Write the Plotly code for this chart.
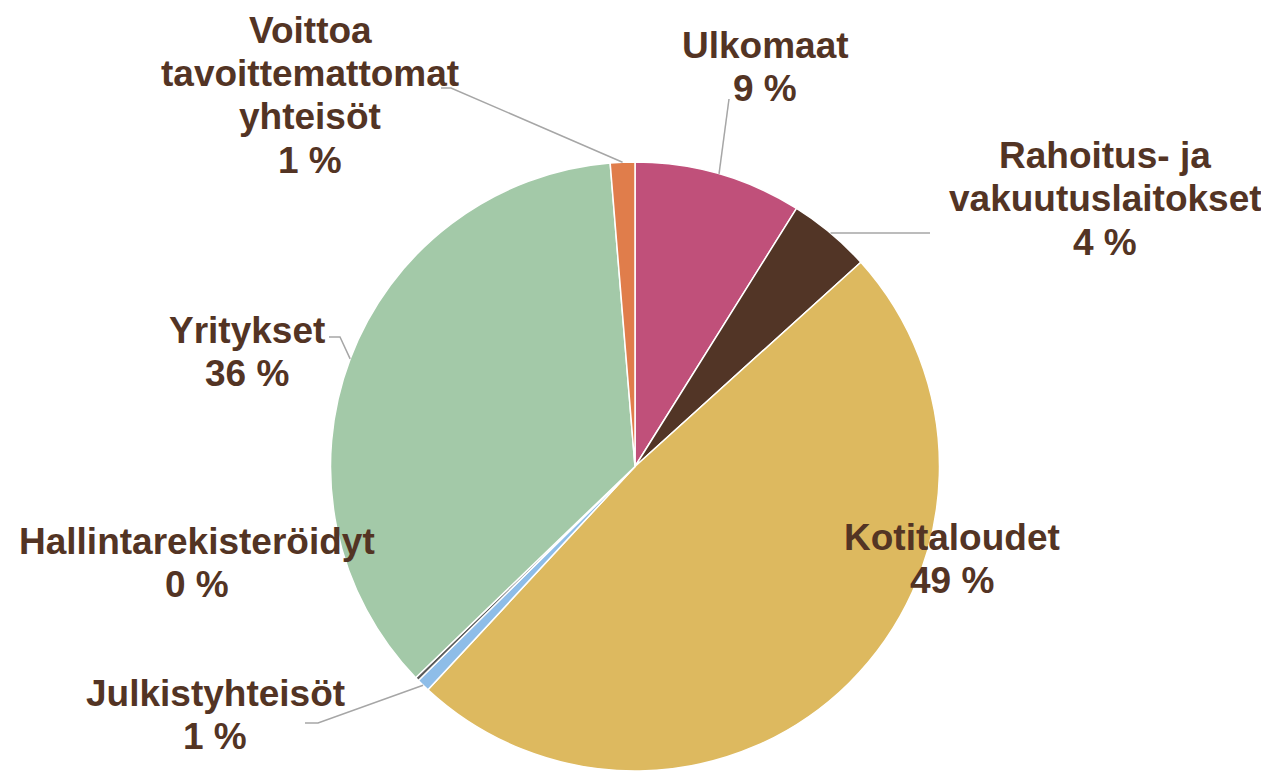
import math
import plotly.graph_objects as go

# ---- data ----
categories = ["Ulkomaat", "Rahoitus- ja vakuutuslaitokset", "Kotitaloudet",
              "Julkistyhteisöt", "Hallintarekisteröidyt", "Yritykset",
              "Voittoa tavoittemattomat yhteisöt"]
label_lines = [["Ulkomaat"], ["Rahoitus- ja", "vakuutuslaitokset"], ["Kotitaloudet"],
               ["Julkistyhteisöt"], ["Hallintarekisteröidyt"], ["Yritykset"],
               ["Voittoa", "tavoittemattomat", "yhteisöt"]]
shares = [8.9, 4.4, 48.6, 0.7, 0.2, 35.9, 1.3]

# ---- styles / layout ----
colors = ["#C0507A", "#523526", "#DDB95F", "#8EBDE8", "#5A5A5A", "#A3C9A8", "#E07D4B"]
TEXT_COLOR = "#533424"
LINE_COLOR = "#A6A6A6"
FONT = "Liberation Sans, Arial, sans-serif"
FS = 37
LS = 43.5
W, H = 1269, 771
OFF = 8  # page body margin offset
CX, CY, R = 635.0, 466.5, 304.5  # screen coordinates of pie

# label block: (center x, y of first line center), screen coordinates
label_pos = [(765, 45), (1105, 155), (952, 537), (215, 693), (197, 541), (247, 330), (310, 30)]
# leader line: extra points after the slice edge point (None = no line)
leader_pts = [[(729, 99)], [(930, 233)], None, [(318, 723), (305, 723)], None,
              [(340, 337), (329, 337)], [(451, 88), (441, 88)]]


def px(x):
    return (x - OFF) / W


def py(y):
    return 1 - (y - OFF) / H


total = sum(shares)
fig = go.Figure(go.Pie(
    labels=categories, values=shares, sort=False, direction="clockwise", rotation=0,
    marker=dict(colors=colors, line=dict(color="white", width=1.5)),
    textinfo="none", hoverinfo="label+percent",
    domain=dict(x=[px(CX - R), px(CX + R)], y=[py(CY + R), py(CY - R)]),
    showlegend=False,
))

annotations = []
shapes = []
cum = 0.0
for i, v in enumerate(shares):
    pct = round(v / total * 100)
    lines = label_lines[i] + [f"{pct} %"]
    lx, ly = label_pos[i]
    for j, t in enumerate(lines):
        annotations.append(dict(
            x=px(lx), y=py(ly + j * LS), xref="paper", yref="paper",
            text=t, showarrow=False, xanchor="center", yanchor="middle",
            font=dict(family=FONT, size=FS, color=TEXT_COLOR, weight="bold"),
        ))
    mid = (cum + v / 2) / total * 2 * math.pi
    cum += v
    if leader_pts[i]:
        sx = CX + R * math.sin(mid)
        sy = CY - R * math.cos(mid)
        pts = [(sx, sy)] + leader_pts[i]
        path = "M " + " L ".join(f"{px(a)},{py(b)}" for a, b in pts)
        shapes.append(dict(type="path", path=path, xref="paper", yref="paper",
                           line=dict(color=LINE_COLOR, width=1.5)))

fig.update_layout(
    width=W, height=H, margin=dict(l=0, r=0, t=0, b=0),
    paper_bgcolor="white", plot_bgcolor="white",
    annotations=annotations, shapes=shapes,
)
fig.write_html("out.html")
